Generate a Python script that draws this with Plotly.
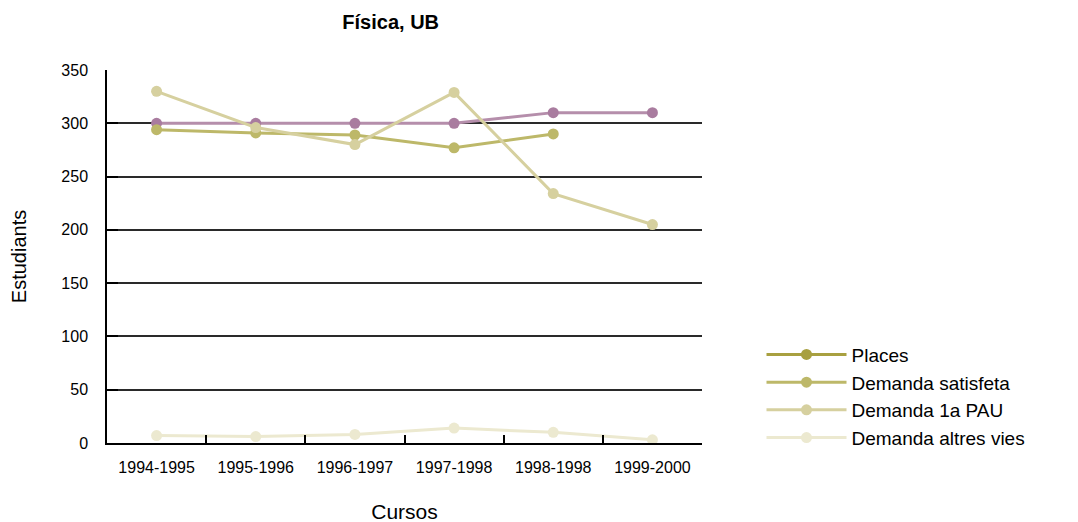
import plotly.graph_objects as go

categories = ["1994-1995", "1995-1996", "1996-1997", "1997-1998", "1998-1998", "1999-2000"]
places = [300, 300, 300, 300, 310, 310]
demanda_satisfeta = [294, 291, 289, 277, 290, None]
demanda_pau = [330, 296, 280, 329, 234, 205]
demanda_altres = [7, 6, 8, 14, 10, 3]
y_ticks = [0, 50, 100, 150, 200, 250, 300, 350]

FONT = "Liberation Sans, Arial, sans-serif"

fig = go.Figure()

fig.add_trace(go.Scatter(x=categories, y=places, name="Places", mode="lines+markers",
                         line=dict(color="#b58eab", width=3),
                         marker=dict(color="#a97c9f", size=11),
                         legendgroup="places", showlegend=False))
fig.add_trace(go.Scatter(x=[None], y=[None], name="Places", mode="lines+markers",
                         line=dict(color="#a8a040", width=3),
                         marker=dict(color="#a8a040", size=11),
                         legendgroup="places"))
fig.add_trace(go.Scatter(x=categories, y=demanda_satisfeta, name="Demanda satisfeta",
                         mode="lines+markers",
                         line=dict(color="#bdb869", width=3),
                         marker=dict(color="#bdb869", size=11)))
fig.add_trace(go.Scatter(x=categories, y=demanda_pau, name="Demanda 1a PAU",
                         mode="lines+markers",
                         line=dict(color="#d6d09f", width=3),
                         marker=dict(color="#d6d09f", size=11)))
fig.add_trace(go.Scatter(x=categories, y=demanda_altres, name="Demanda altres vies",
                         mode="lines+markers",
                         line=dict(color="#ece9d0", width=3),
                         marker=dict(color="#ece9d0", size=11)))

fig.update_layout(
    width=1078, height=522,
    margin=dict(l=99, r=384, t=62, b=87),
    paper_bgcolor="white", plot_bgcolor="white",
    font=dict(family=FONT, color="black"),
    title=dict(text="<b>Física, UB</b>", x=0.355, xanchor="center",
               y=0.973, yanchor="middle", yref="container",
               font=dict(family=FONT, size=20, color="black")),
    xaxis=dict(type="category", range=[-0.5, 5.5], showgrid=False,
               automargin=False,
               showline=True, linecolor="black", linewidth=1.5,
               ticks="inside", ticklen=8, tickwidth=1.5, tickcolor="black",
               tickson="boundaries", ticklabelstandoff=9,
               tickfont=dict(family=FONT, size=16, color="black"),
               title=dict(text="Cursos", standoff=29,
                          font=dict(family=FONT, size=21, color="black"))),
    yaxis=dict(range=[0, 350], tickvals=y_ticks, showgrid=True,
               automargin=False,
               gridcolor="#2a2a2a", gridwidth=1.5, zeroline=False,
               showline=True, linecolor="black", linewidth=1.5,
               ticks="inside", ticklen=11, tickwidth=2, tickcolor="black",
               ticklabelstandoff=14,
               tickfont=dict(family=FONT, size=16, color="black"),
               title=dict(text="Estudiants", standoff=30,
                          font=dict(family=FONT, size=20, color="black"))),
    legend=dict(x=1.1, xanchor="left", y=0.288, yanchor="top",
                font=dict(family=FONT, size=19, color="black"),
                itemwidth=80, bgcolor="rgba(0,0,0,0)", tracegroupgap=0),
)

fig.write_html("out.html")
